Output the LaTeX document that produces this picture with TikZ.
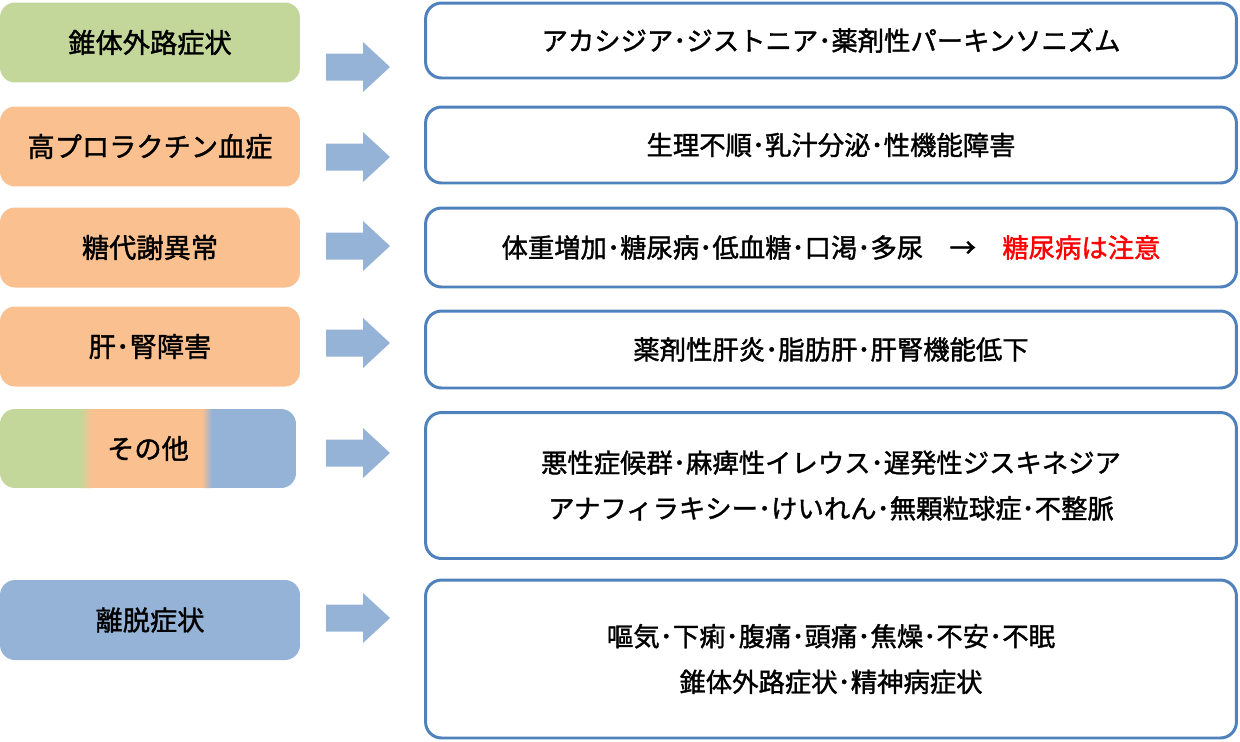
\documentclass[tikz,border=0pt]{standalone}
\usepackage{fontspec}
\setmainfont[FakeBold=1.4]{Noto Sans CJK JP}
\usetikzlibrary{positioning}
\definecolor{grn}{RGB}{196,215,155}
\definecolor{org}{RGB}{250,192,144}
\definecolor{blu}{RGB}{149,179,215}
\definecolor{edge}{RGB}{79,129,189}
\tikzset{
	leftbox/.style={rounded corners=0.3cm,minimum width=6cm,minimum height=1.6cm,inner sep=0pt,font=\fontsize{15.5pt}{18pt}\selectfont},
	rightbox/.style={draw=edge,line width=1.7pt,fill=white,rounded corners=0.32cm,minimum width=16.22cm,inner sep=0pt,align=center,font=\fontsize{15pt}{26pt}\selectfont},
	arrowfill/.style={fill=blu}
}
\begin{document}
\begin{tikzpicture}[x=0.02cm,y=-0.02cm]
		\useasboundingbox (0,0) rectangle (1240,741);

		\node[leftbox,fill=grn](l1) at (150,42.5){錐体外路症状};
		\node[leftbox,fill=org](l2) at (150,146.5){高プロラクチン血症};
		\node[leftbox,fill=org](l3) at (150,247.5){糖代謝異常};
		\node[leftbox,fill=org](l4) at (150,346.5){肝･腎障害};

		\begin{scope}
			\clip[rounded corners=0.3cm] (0,409) rectangle (296,488);
			\fill[grn] (0,409) rectangle (80,488);
			\shade[left color=grn,right color=org] (80,409) rectangle (92,488);
			\fill[org] (92,409) rectangle (202,488);
			\shade[left color=org,right color=blu] (202,409) rectangle (212,488);
			\fill[blu] (212,409) rectangle (296,488);
		\end{scope}
		\node[leftbox,minimum width=5.92cm](l5) at (148,448.5){その他};

		\node[leftbox,fill=blu](l6) at (150,620){離脱症状};

		\node[rightbox,minimum height=1.5cm](r1) at (831,40.5){アカシジア･ジストニア･薬剤性パーキンソニズム};
		\node[rightbox,minimum height=1.52cm](r2) at (831,145){生理不順･乳汁分泌･性機能障害};
		\node[rightbox,minimum height=1.58cm](r3) at (831,247.5){体重増加･糖尿病･低血糖･口渇･多尿\quad →\quad \textcolor{red}{糖尿病は注意}};
		\node[rightbox,minimum height=1.54cm](r4) at (831,349.5){薬剤性肝炎･脂肪肝･肝腎機能低下};
		\node[rightbox,minimum height=2.92cm](r5) at (831,485.5){悪性症候群･麻痺性イレウス･遅発性ジスキネジア\\アナフィラキシー･けいれん･無顆粒球症･不整脈};
		\node[rightbox,minimum height=3.16cm](r6) at (831,659){嘔気･下痢･腹痛･頭痛･焦燥･不安･不眠\\錐体外路症状･精神病症状};

		\foreach \n/\y in {1/67,2/157,3/246,4/343,5/453,6/618}{
			\coordinate(a\n) at (358,\y);
			\fill[arrowfill,shift={(a\n)}] (-32,-13.5) -- (5,-13.5) -- (5,-25) -- (32,0) -- (5,25) -- (5,13.5) -- (-32,13.5) -- cycle;
		}
	\end{tikzpicture}
\end{document}
